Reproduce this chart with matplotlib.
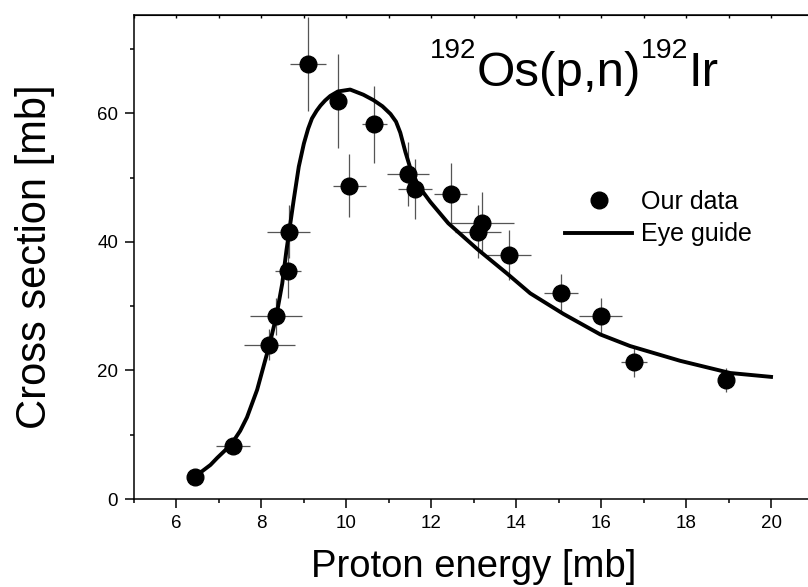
import matplotlib.pyplot as plt
from matplotlib.ticker import MultipleLocator

plt.rcParams['font.family'] = ['Liberation Sans', 'DejaVu Sans']

energy = [6.43, 7.33, 8.19, 8.35, 8.63, 8.64, 9.10, 9.80, 10.07, 10.66,
          11.45, 11.61, 12.46, 13.10, 13.19, 13.83, 15.05, 15.99, 16.78, 18.93]
xsec = [3.5, 8.2, 24.0, 28.4, 35.5, 41.6, 67.7, 61.9, 48.7, 58.3,
        50.6, 48.2, 47.5, 41.6, 42.9, 38.0, 32.1, 28.5, 21.3, 18.5]
energy_err = [0.1, 0.40, 0.61, 0.61, 0.30, 0.51, 0.43, 0.1, 0.39, 0.29,
              0.5, 0.4, 0.39, 0.55, 0.75, 0.51, 0.40, 0.51, 0.31, 0.15]
xsec_err = [0.5, 0.8, 2.4, 2.9, 4.2, 4.1, 7.3, 7.3, 4.9, 6.0,
            5.0, 4.7, 4.7, 4.1, 4.8, 3.9, 2.9, 2.8, 2.3, 1.9]

# eye guide curve
guide_e = [6.45, 6.56, 6.80, 6.96, 7.15, 7.33, 7.50, 7.66, 7.90, 8.09,
           8.19, 8.35, 8.49, 8.59, 8.76, 8.88, 9.00, 9.10, 9.19, 9.30,
           9.39, 9.50, 9.62, 9.80, 10.09, 10.40, 10.64, 10.85, 11.04, 11.17,
           11.27, 11.39, 11.51, 11.70, 11.98, 12.40, 13.08, 13.78, 14.33, 15.11,
           15.98, 16.68, 17.86, 19.04, 20.0]
guide_xs = [3.5, 4.1, 5.3, 6.4, 7.6, 8.9, 10.6, 12.7, 17.0, 21.6,
            24.0, 28.4, 33.5, 38.7, 46.5, 51.7, 55.3, 57.6, 59.2, 60.4,
            61.2, 62.0, 62.7, 63.4, 63.7, 62.9, 62.05, 61.1, 59.9, 58.7,
            57.0, 54.0, 51.4, 48.7, 46.2, 42.9, 38.9, 35.1, 32.0, 28.8,
            25.6, 23.8, 21.5, 19.6, 19.0]

fig = plt.figure(figsize=(8.08, 5.87), dpi=100)
ax = fig.add_axes([134 / 808, 1 - 499 / 587, 679.5 / 808, 484 / 587])

ax.errorbar(energy, xsec, xerr=energy_err, yerr=xsec_err, fmt='none',
            ecolor='#555555', elinewidth=0.9, capsize=0, zorder=2)
ax.plot(guide_e, guide_xs, color='black', lw=2.8, solid_joinstyle='round',
        zorder=3, label='Eye guide')
ax.plot(energy, xsec, 'o', color='black', ms=12, zorder=4, label='Our data')

ax.set_xlim(5, 21)
ax.set_ylim(0, 75.3)
ax.xaxis.set_major_locator(MultipleLocator(2))
ax.xaxis.set_minor_locator(MultipleLocator(1))
ax.yaxis.set_major_locator(MultipleLocator(20))
ax.yaxis.set_minor_locator(MultipleLocator(10))
ax.tick_params(which='major', direction='out', length=6.5, width=1.1,
               labelsize=13.5, pad=5)
ax.tick_params(which='minor', direction='out', length=3, width=1.1)
for sp in ax.spines.values():
    sp.set_linewidth(1.1)

top = ax.secondary_xaxis('top')
top.xaxis.set_major_locator(MultipleLocator(1))
top.tick_params(direction='in', length=2, width=1.0, labeltop=False)

ax.set_xlabel('Proton energy [mb]', fontsize=27.5, labelpad=12)
ax.set_ylabel('Cross section [mb]', fontsize=30, labelpad=30)

h, l = ax.get_legend_handles_labels()
ax.legend(h[::-1], l[::-1], loc='upper left', bbox_to_anchor=(0.634, 0.638),
          frameon=False, fontsize=18, handlelength=2.7, handletextpad=0.35,
          labelspacing=0.33, borderpad=0, borderaxespad=0)

# reaction label with superscript mass numbers
base = 1 - 86 / 587
sup = 1 - 58 / 587
t1 = fig.text(430 / 808, sup, '192', fontsize=20, va='baseline', ha='left')
t2 = ax.annotate('Os(p,n)', xy=(1, base), xycoords=(t1, 'figure fraction'),
                 fontsize=35.5, va='baseline', ha='left')
t3 = ax.annotate('192', xy=(1, sup), xycoords=(t2, 'figure fraction'),
                 fontsize=20.5, va='baseline', ha='left')
ax.annotate('Ir', xy=(1, base), xycoords=(t3, 'figure fraction'),
            fontsize=35.5, va='baseline', ha='left')

fig.savefig('out.png', dpi=100)
